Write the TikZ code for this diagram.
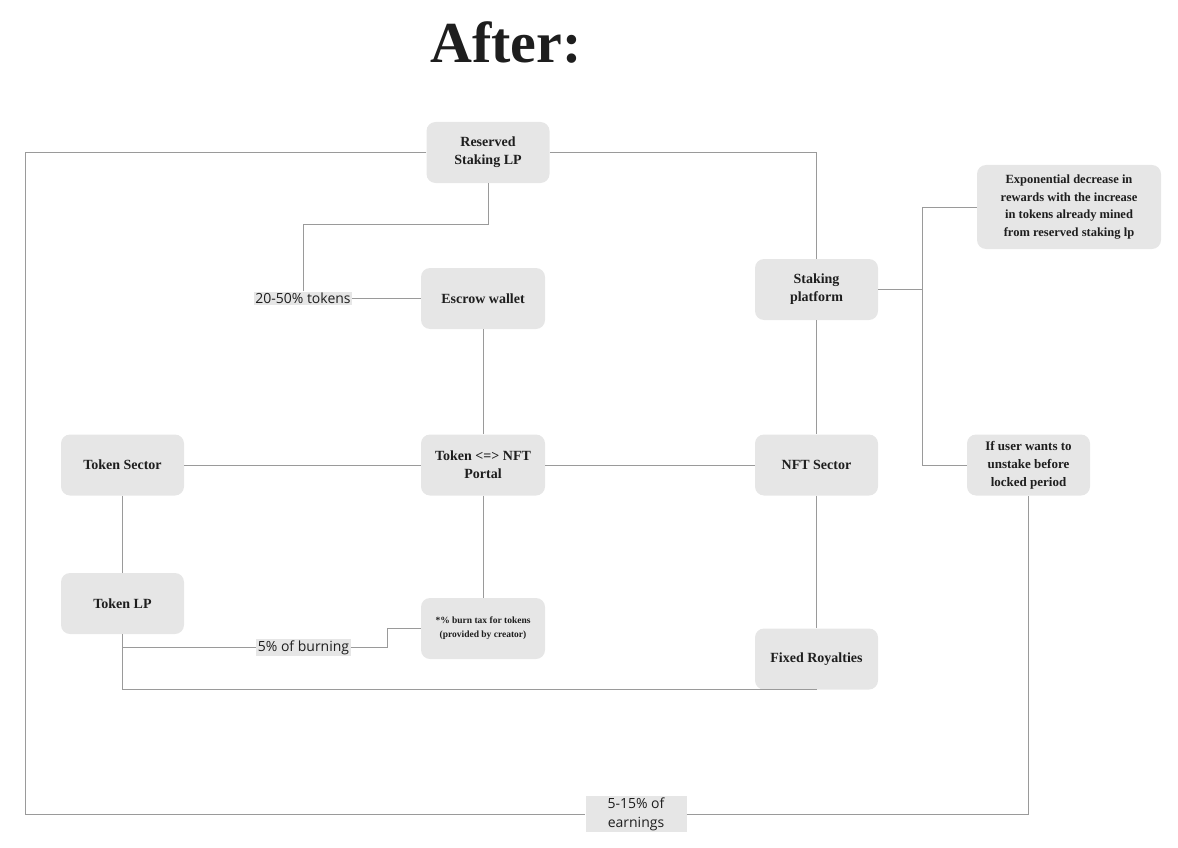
\documentclass[tikz,border=0pt]{standalone}
\usepackage{fontspec}
\setmainfont{Liberation Serif}
\newfontfamily\labelfont{Open Sans}
\usetikzlibrary{positioning}

\begin{document}
\begin{tikzpicture}[x=1pt, y=-1pt,
        every node/.style = {align=center},
        box/.style = {fill=boxgray, rounded corners=9pt, minimum width=123pt,
            minimum height=61pt, inner sep=2pt, text=inkgray,
            font=\bfseries\fontsize{14}{18}\selectfont},
        tag/.style = {fill=boxgray, inner sep=1.5pt, text=inkgray,
            font=\labelfont\fontsize{14}{19}\selectfont},
        link/.style = {draw=linegray, line width=0.8pt}]
    \definecolor{boxgray}{HTML}{E6E6E6}
    \definecolor{linegray}{HTML}{9A9A9A}
    \definecolor{inkgray}{HTML}{1E1E1E}
    \useasboundingbox (0,0) rectangle (1178,848);
    \node[text=inkgray, font=\bfseries\fontsize{58}{60}\selectfont] (title) at (506,42) {After:};

    \node[box] (reserved) at (488,152.5) {Reserved\\Staking LP};
    \node[box, minimum width=124pt] (escrow) at (483,298.5) {Escrow wallet};
    \node[box] (staking) at (816.5,289.5) {Staking\\platform};
    \node[box, minimum width=184pt, minimum height=84pt,
        font=\bfseries\fontsize{12.5}{17.5}\selectfont] (decrease) at (1069,207)
        {Exponential decrease in\\rewards with the increase\\in tokens already mined\\from reserved staking lp};
    \node[box] (tsector) at (122.5,465) {Token Sector};
    \node[box, minimum width=124pt] (portal) at (483,465) {Token <=> NFT\\Portal};
    \node[box] (nsector) at (816.5,465) {NFT Sector};
    \node[box, font=\bfseries\fontsize{13}{18}\selectfont] (unstake) at (1028.5,465)
        {If user wants to\\unstake before\\locked period};
    \node[box] (tokenlp) at (122.5,603.5) {Token LP};
    \node[box, minimum width=124pt, font=\bfseries\fontsize{9.5}{14}\selectfont] (burntax) at (483,628.5)
        {*\% burn tax for tokens\\(provided by creator)};
    \node[box] (royalties) at (816.5,659) {Fixed Royalties};

    \node[tag] (share) at (303,298.5) {20-50\% tokens};
    \node[tag] (burning) at (303.5,647.5) {5\% of burning};
    \node[tag, minimum width=101pt] (earnings) at (636,814) {5-15\% of\\earnings};

    \coordinate (fork) at (922,289.5);

    \draw[link] (reserved.west) -- (25,152.5) -- (25,814) -- (earnings.west);
    \draw[link] (earnings.east) -| (unstake.south);
    \draw[link] (reserved.east) -| (staking.north);
    \draw[link] (reserved.south) -- (488,224) -| (share.north);
    \draw[link] (share.east) -- (escrow.west);
    \draw[link] (escrow.south) -- (portal.north);
    \draw[link] (tsector.east) -- (portal.west);
    \draw[link] (portal.east) -- (nsector.west);
    \draw[link] (staking.south) -- (nsector.north);
    \draw[link] (staking.east) -- (fork);
    \draw[link] (decrease.west) -| (fork) |- (unstake.west);
    \draw[link] (tsector.south) -- (tokenlp.north);
    \draw[link] (portal.south) -- (burntax.north);
    \draw[link] (tokenlp.south) |- (burning.west);
    \draw[link] (burning.east) -- (387,647.5) |- (burntax.west);
    \draw[link] (tokenlp.south) |- (royalties.south);
    \draw[link] (nsector.south) -- (royalties.north);
\end{tikzpicture}
\end{document}
